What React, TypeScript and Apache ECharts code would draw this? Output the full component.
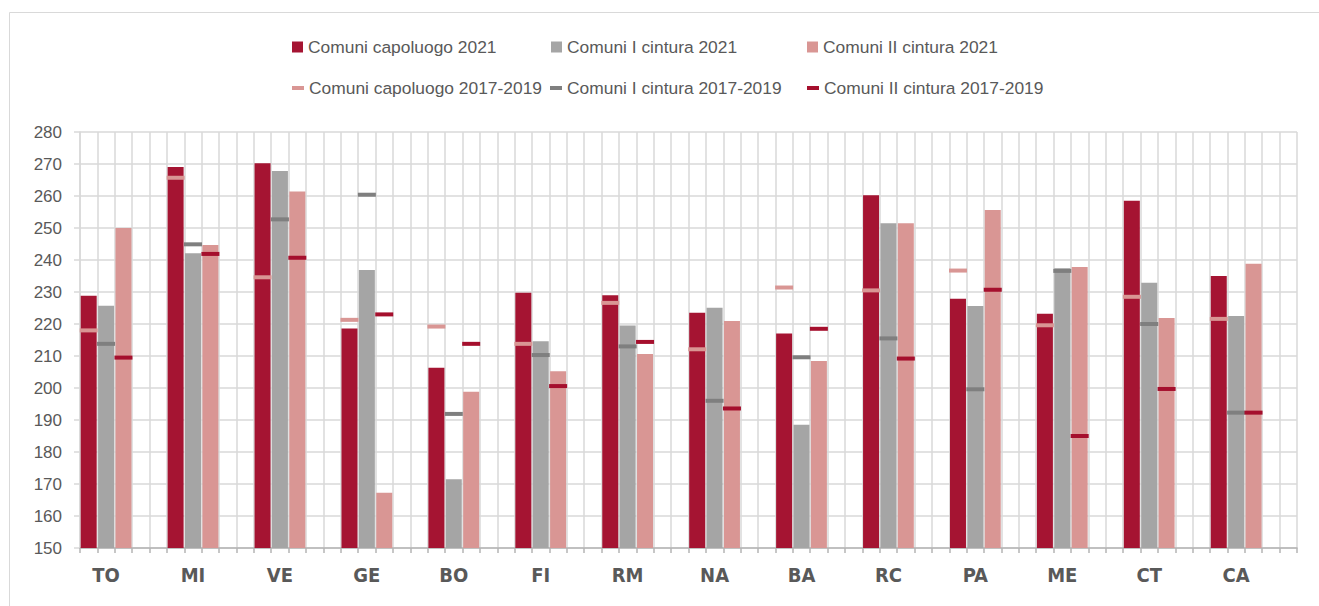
import React, { useEffect, useRef } from 'react';
import * as echarts from 'echarts';

const cities = ['TO', 'MI', 'VE', 'GE', 'BO', 'FI', 'RM', 'NA', 'BA', 'RC', 'PA', 'ME', 'CT', 'CA'];
const capoluogo2021 = [228.8, 269.1, 270.2, 218.6, 206.3, 229.8, 229.0, 223.5, 217.0, 260.2, 227.9, 223.2, 258.5, 235.0];
const cintura1_2021 = [225.7, 242.1, 267.8, 236.9, 171.5, 214.6, 219.5, 225.1, 188.5, 251.5, 225.6, 237.4, 232.9, 222.5];
const cintura2_2021 = [250.0, 244.7, 261.4, 167.3, 198.8, 205.2, 210.6, 220.9, 208.4, 251.5, 255.6, 237.8, 221.9, 238.8];
const capoluogo1719 = [218.0, 265.7, 234.6, 221.3, 219.2, 213.8, 226.6, 212.1, 231.4, 230.5, 236.7, 219.6, 228.5, 221.6];
const cintura1_1719 = [213.8, 244.9, 252.7, 260.4, 191.9, 210.3, 213.0, 196.0, 209.6, 215.5, 199.6, 236.6, 220.0, 192.3];
const cintura2_1719 = [209.5, 241.9, 240.7, 223.0, 213.8, 200.6, 214.4, 193.6, 218.5, 209.2, 230.7, 185.0, 199.7, 192.3];

const SLOTS = 5;
const categories = cities.flatMap((c) => Array.from({ length: SLOTS }, (_, k) => `${c}|${k}`));

function barSlots(values: number[], offset: number) {
  const out: (number | string)[] = [];
  values.forEach((v) => {
    for (let k = 0; k < SLOTS; k++) out.push(k === offset ? v : '-');
  });
  return out;
}
function markSlots(values: number[], offset: number) {
  return values.map((v, i) => [i * SLOTS + offset, v]);
}

const C_CAP = '#A51432';
const C_CI = '#A5A5A5';
const C_CII = '#D99694';
const M_CAP = '#D99694';
const M_CI = '#7F7F7F';
const M_CII = '#A50F2D';

const FONT = "'Liberation Sans', Arial, sans-serif";
const NARROW = "'Liberation Sans Narrow', 'Arial Narrow', 'DejaVu Sans Condensed', 'Liberation Sans', sans-serif";

export default function App() {
  const ref = useRef<HTMLDivElement>(null);
  useEffect(() => {
    if (!ref.current) return;
    const chart = echarts.init(ref.current, undefined, { renderer: 'svg' });
    const legendText = { color: '#595959', fontSize: 17.4, fontFamily: FONT, lineHeight: 20 };
    const mkLegend = (name: string, left: number, top: number, marker: boolean) => ({
      data: [{ name, icon: 'rect' }],
      left,
      top,
      itemWidth: marker ? 12 : 11,
      itemHeight: marker ? 4 : 11,
      itemGap: 0,
      padding: 0,
      textStyle: legendText,
      selectedMode: false,
    });
    const names = [
      'Comuni capoluogo 2021',
      'Comuni I cintura 2021',
      'Comuni II cintura 2021',
      'Comuni capoluogo 2017-2019',
      'Comuni I cintura 2017-2019',
      'Comuni II cintura 2017-2019',
    ];
    const barSeries = (name: string, data: (number | string)[], color: string) => ({
      name,
      type: 'bar',
      data,
      barWidth: 16,
      barGap: '-100%',
      itemStyle: { color },
      z: 2,
    });
    const markSeries = (name: string, data: number[][], color: string) => ({
      name,
      type: 'scatter',
      data,
      symbol: 'rect',
      symbolSize: [18, 4],
      itemStyle: { color, opacity: 1 },
      z: 4,
    });
    chart.setOption({
      animation: false,
      backgroundColor: '#ffffff',
      graphic: [
        {
          type: 'rect',
          shape: { x: 9.5, y: 12.5, width: 1330, height: 700 },
          style: { fill: 'none', stroke: '#d9d9d9', lineWidth: 1 },
          silent: true,
        },
      ],
      legend: [
        mkLegend(names[0], 292, 37, false),
        mkLegend(names[1], 551, 37, false),
        mkLegend(names[2], 807, 37, false),
        mkLegend(names[3], 292, 78, true),
        mkLegend(names[4], 550, 78, true),
        mkLegend(names[5], 807, 78, true),
      ],
      grid: { left: 80, right: 22, top: 132, bottom: 58, containLabel: false },
      xAxis: {
        type: 'category',
        data: categories,
        boundaryGap: true,
        axisLine: { show: true, lineStyle: { color: '#b4b4b4', width: 1.5 } },
        axisTick: { show: true, interval: 0, length: 5, lineStyle: { color: '#b4b4b4', width: 1.5 } },
        splitLine: { show: true, interval: 0, lineStyle: { color: '#d9d9d9', width: 1.5 } },
        axisLabel: {
          interval: 0,
          margin: 17,
          color: '#595959',
          fontSize: 20,
          fontWeight: 'bold',
          fontFamily: NARROW,
          formatter: (v: string) => {
            const [c, k] = v.split('|');
            return k === '1' ? c : '';
          },
        },
      },
      yAxis: {
        type: 'value',
        min: 150,
        max: 280,
        interval: 10,
        axisLine: { show: true, lineStyle: { color: '#d9d9d9', width: 1.5 } },
        axisTick: { show: true, length: 6, lineStyle: { color: '#d9d9d9', width: 1.5 } },
        splitLine: { show: true, lineStyle: { color: '#d9d9d9', width: 1.5 } },
        axisLabel: { margin: 18, color: '#595959', fontSize: 17, fontFamily: FONT },
      },
      series: [
        barSeries(names[0], barSlots(capoluogo2021, 0), C_CAP),
        barSeries(names[1], barSlots(cintura1_2021, 1), C_CI),
        barSeries(names[2], barSlots(cintura2_2021, 2), C_CII),
        markSeries(names[3], markSlots(capoluogo1719, 0), M_CAP),
        markSeries(names[4], markSlots(cintura1_1719, 1), M_CI),
        markSeries(names[5], markSlots(cintura2_1719, 2), M_CII),
      ],
    });
    return () => chart.dispose();
  }, []);
  return (
    <div
      ref={ref}
      style={{ position: 'absolute', left: 0, top: 0, width: 1319, height: 606, background: '#fff' }}
    />
  );
}
